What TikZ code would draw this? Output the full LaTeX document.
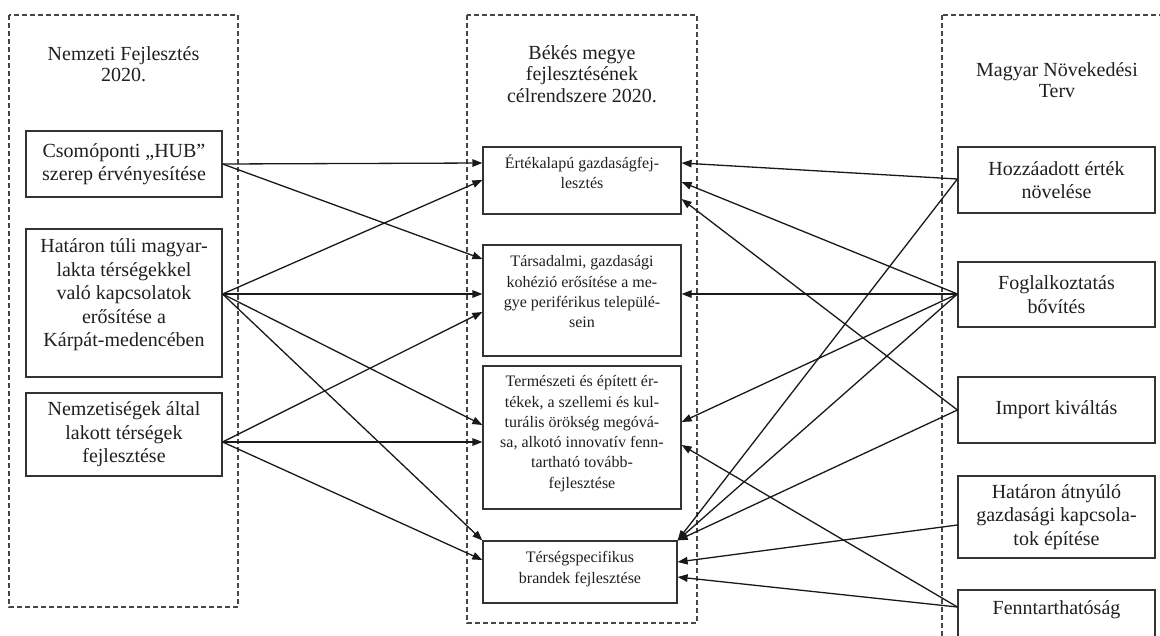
\documentclass[tikz,border=0pt]{standalone}
\usepackage{fontspec}
\setmainfont{Liberation Serif}
\usetikzlibrary{arrows.meta}
\begin{document}
\begin{tikzpicture}[x=1pt,y=-1pt,
  dframe/.style={draw=black!72, line width=1.1pt, dash pattern=on 5pt off 3pt},
  box/.style={draw=black!80, line width=1.2pt, inner sep=0pt},
  bigtxt/.style={font=\fontsize{20}{23.5}\selectfont, align=center, text=black!88, inner sep=0pt},
  smalltxt/.style={font=\fontsize{16}{20.3}\selectfont, align=center, text=black!88, inner sep=0pt},
  titletxt/.style={font=\fontsize{20}{21.5}\selectfont, align=center, text=black!88, inner sep=0pt},
  arr/.style={line width=1.3pt, draw=black!90, -{Triangle[length=10pt,width=7.5pt]}}
]
\useasboundingbox (0,0) rectangle (1160,635);
\clip (0,0) rectangle (1160,635);

% dashed frames
\draw[dframe] (9,15) rectangle (238,607);
\draw[dframe] (467,15) rectangle (697,623);
\draw[dframe] (942,15) rectangle (1180,660);

% titles
\node[titletxt] (T1) at (123.5,64) {Nemzeti Fejlesztés\\2020.};
\node[titletxt] (T2) at (582,74) {Békés megye\\fejlesztésének\\célrendszere 2020.};
\node[titletxt] (T3) at (1057,80) {Magyar Növekedési\\Terv};

% left boxes
\node[box, bigtxt, minimum width=196pt, minimum height=66pt] (L1) at (124,164) {Csomóponti „HUB”\\szerep érvényesítése};
\node[box, minimum width=196pt, minimum height=148pt] (L2) at (124,303) {};
\node[bigtxt, anchor=north] (L2t) at ([yshift=-10pt]L2.north) {Határon túli magyar-\\lakta térségekkel\\való kapcsolatok\\erősítése a\\Kárpát-medencében};
\node[box, bigtxt, minimum width=196pt, minimum height=83pt] (L3) at (124,434.5) {Nemzetiségek által\\lakott térségek\\fejlesztése};

% middle boxes
\node[box, minimum width=198pt, minimum height=67pt] (M1) at (582,180.5) {};
\node[smalltxt, anchor=north] (M1t) at ([yshift=-8pt]M1.north) {Értékalapú gazdaságfej-\\lesztés};
\node[box, minimum width=198pt, minimum height=111pt] (M2) at (582,300.5) {};
\node[smalltxt, anchor=north] (M2t) at ([yshift=-11pt]M2.north) {Társadalmi, gazdasági\\kohézió erősítése a me-\\gye periférikus települé-\\sein};
\node[box, minimum width=198pt, minimum height=143pt] (M3) at (582,437.5) {};
\node[smalltxt, anchor=north] (M3t) at ([yshift=-10pt]M3.north) {Természeti és épített ér-\\tékek, a szellemi és kul-\\turális örökség megóvá-\\sa, alkotó innovatív fenn-\\tartható tovább-\\fejlesztése};
\node[box, minimum width=194pt, minimum height=62pt] (M4) at (580,572) {};
\node[smalltxt, anchor=north] (M4t) at ([yshift=-11pt]M4.north) {Térségspecifikus\\brandek fejlesztése};

% right boxes
\node[box, bigtxt, minimum width=197pt, minimum height=66pt] (R1) at (1056.5,180) {Hozzáadott érték\\növelése};
\node[box, bigtxt, minimum width=197pt, minimum height=65pt] (R2) at (1056.5,294.5) {Foglalkoztatás\\bővítés};
\node[box, bigtxt, minimum width=197pt, minimum height=66pt] (R3) at (1056.5,410) {Import kiváltás};
\node[box, bigtxt, minimum width=197pt, minimum height=82pt] (R4) at (1056.5,517) {Határon átnyúló\\gazdasági kapcsola-\\tok építése};
\node[box, minimum width=197pt, minimum height=70pt] (R5) at (1056.5,625) {};
\node[bigtxt] (R5t) at (1056.5,610) {Fenntarthatóság};

% ports
\coordinate (l1o) at (L1.east);
\coordinate (l2o) at (L2.east |- 0,294);
\coordinate (l3o) at (L3.east |- 0,442);
\coordinate (r1o) at (R1.west |- 0,179);
\coordinate (r2o) at (R2.west |- 0,294);
\coordinate (r3o) at (R3.west |- 0,410);
\coordinate (r4o) at (R4.west |- 0,525);
\coordinate (r5o) at (R5.west |- 0,607);

\coordinate (m1a) at (M1.west |- 0,163);
\coordinate (m1b) at (M1.west |- 0,180);
\coordinate (m2a) at (M2.west |- 0,259);
\coordinate (m2b) at (M2.west |- 0,294);
\coordinate (m2c) at (M2.west |- 0,312);
\coordinate (m3a) at (M3.west |- 0,425);
\coordinate (m3b) at (M3.west |- 0,442);
\coordinate (m4a) at (M4.north west);
\coordinate (m4b) at (M4.west |- 0,560);

\coordinate (m1c) at (M1.east |- 0,163);
\coordinate (m1d) at (M1.east |- 0,182);
\coordinate (m1e) at (M1.east |- 0,199);
\coordinate (m2d) at (M2.east |- 0,294);
\coordinate (m3c) at (M3.east |- 0,422);
\coordinate (m3d) at (M3.east |- 0,445);
\coordinate (m4c) at (M4.north east);
\coordinate (m4d) at (M4.east |- 0,562);
\coordinate (m4e) at (M4.east |- 0,577);

% left connectors
\draw[arr] (l1o) -- (m1a);
\draw[arr] (l1o) -- (m2a);
\draw[arr] (l2o) -- (m1b);
\draw[arr] (l2o) -- (m2b);
\draw[arr] (l2o) -- (m3a);
\draw[arr] (l2o) -- (m4a);
\draw[arr] (l3o) -- (m2c);
\draw[arr] (l3o) -- (m3b);
\draw[arr] (l3o) -- (m4b);

% right connectors
\draw[arr] (r1o) -- (m1c);
\draw[arr] (r1o) -- (m4c);
\draw[arr] (r2o) -- (m1d);
\draw[arr] (r2o) -- (m2d);
\draw[arr] (r2o) -- (m3c);
\draw[arr] (r2o) -- (m4c);
\draw[arr] (r3o) -- (m1e);
\draw[arr] (r3o) -- (m4c);
\draw[arr] (r4o) -- (m4d);
\draw[arr] (r5o) -- (m3d);
\draw[arr] (r5o) -- (m4e);
\end{tikzpicture}
\end{document}
